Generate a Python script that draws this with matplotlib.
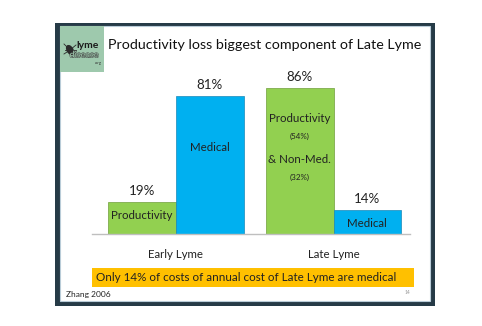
import matplotlib
matplotlib.use("Agg")
import matplotlib.pyplot as plt
import matplotlib.patches as mpatches
import matplotlib.patheffects as pe
from matplotlib.patches import Ellipse

# ---- data ----
categories = ["Early Lyme", "Late Lyme"]
green_values = [19, 86]
blue_values = [81, 14]
green_inside = ["Productivity", "Productivity"]
blue_inside = ["Medical", "Medical"]
late_sub = ["(54%)", "& Non-Med.", "(32%)"]
title = "Productivity loss biggest component of Late Lyme"
note = "Only 14% of costs of annual cost of Late Lyme are medical"
source = "Zhang 2006"
page = "14"

FONT = ["Lato", "DejaVu Sans"]
plt.rcParams["font.family"] = FONT

W, H = 482, 326
fig = plt.figure(figsize=(W / 100, H / 100), dpi=100)
fig.patch.set_facecolor("white")

# background / frame layer in pixel coords
bg = fig.add_axes([0, 0, 1, 1])
bg.set_xlim(0, W)
bg.set_ylim(H, 0)
bg.axis("off")
bg.add_patch(mpatches.Rectangle((55, 23), 380, 283, facecolor="#263b47", edgecolor="none"))
bg.add_patch(mpatches.Rectangle((59.5, 25.5), 370, 275, facecolor="white", edgecolor="#b9ccd8", lw=0.8))
# logo
bg.add_patch(mpatches.Rectangle((60, 26), 44, 46, facecolor="#9ec9ad", edgecolor="none"))
bg.add_patch(Ellipse((70, 50), 7, 11, angle=-30, facecolor="#2a2a2a", edgecolor="none"))
for dx, dy in [(-6, -6), (6, -5), (-6, 4), (6, 5), (-5, 0), (6, 0)]:
    bg.plot([70, 70 + dx], [50, 50 + dy], color="#2a2a2a", lw=0.6)
bg.text(88, 45, "lyme", fontsize=7.5, fontweight="bold", color="#1a1a1a", ha="center", va="center")
bg.text(84, 55, "disease", fontsize=6.5, color="#9ec9ad", ha="center", va="center",
        path_effects=[pe.withStroke(linewidth=0.6, foreground="#444444")])
bg.text(98, 63, ".org", fontsize=3, color="#333333", ha="center", va="center")
# title
bg.text(264.5, 45, title, fontsize=10.3, color="#111111", ha="center", va="center")
# note box
bg.add_patch(mpatches.Rectangle((92, 268), 322, 19, facecolor="#ffc000", edgecolor="none"))
bg.text(96, 277.5, note, fontsize=8.4, color="#222222", ha="left", va="center")
bg.text(66, 295, source, fontsize=6.0, color="#222222", ha="left", va="center")
bg.text(407, 293, page, fontsize=3.5, color="#999999", ha="center", va="center")

# bar chart axes
base_px, top_px = 234, 64
left_px, right_px = 92, 410
ax = fig.add_axes([left_px / W, (H - base_px) / H, (right_px - left_px) / W, (base_px - top_px) / H])
ax.set_facecolor("none")
gc0, gsp = 176, 157.5
ax.set_xlim((left_px - gc0) / gsp, (right_px - gc0) / gsp)
ax.set_ylim(0, 100)
w = 0.43
x = list(range(len(categories)))
xg = [i - w / 2 for i in x]
xb = [i + w / 2 for i in x]
ax.bar(xg, green_values, width=w, color="#92d050", edgecolor="#6f9e3a", lw=0.5)
ax.bar(xb, blue_values, width=w, color="#00b0f0", edgecolor="#1a88b8", lw=0.5)
for s in ["top", "right", "left"]:
    ax.spines[s].set_visible(False)
ax.spines["bottom"].set_color("#bfbfbf")
ax.spines["bottom"].set_linewidth(1.0)
ax.set_yticks([])
ax.set_xticks(x)
ax.set_xticklabels(categories, fontsize=8.3, color="#222222")
ax.tick_params(axis="x", length=0, pad=10.5)

for i in x:
    ax.text(xg[i], green_values[i] + 3, f"{green_values[i]}%", ha="center", va="bottom", fontsize=9.6, color="#222222")
    ax.text(xb[i], blue_values[i] + 3, f"{blue_values[i]}%", ha="center", va="bottom", fontsize=9.6, color="#222222")

# inside labels
fs_in = 8.3
ax.text(xg[0], 11, green_inside[0], ha="center", va="center", fontsize=fs_in, color="#222222")
ax.text(xb[0], 51, blue_inside[0], ha="center", va="center", fontsize=fs_in, color="#222222")
ax.text(xg[1], 68, green_inside[1], ha="center", va="center", fontsize=fs_in, color="#222222")
ax.text(xg[1], 57.5, late_sub[0], ha="center", va="center", fontsize=5.8, color="#222222")
ax.text(xg[1], 44, late_sub[1], ha="center", va="center", fontsize=fs_in, color="#222222")
ax.text(xg[1], 33, late_sub[2], ha="center", va="center", fontsize=5.8, color="#222222")
ax.text(xb[1], 6, blue_inside[1], ha="center", va="center", fontsize=fs_in, color="#222222")

fig.savefig("out.png", dpi=100)
